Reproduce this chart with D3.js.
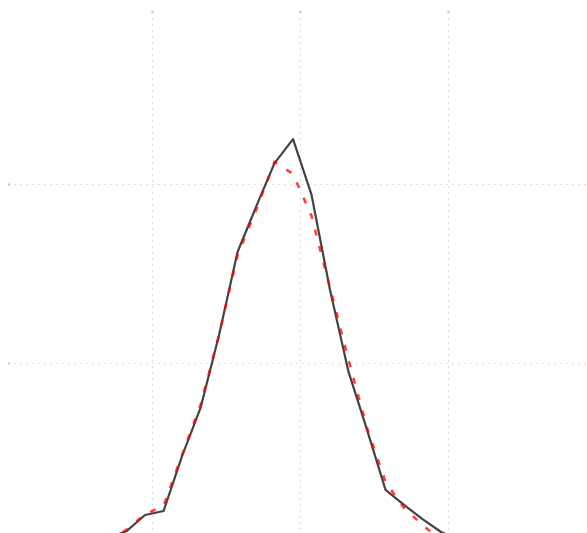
<!DOCTYPE html>
<html>
<head>
<meta charset="utf-8">
<script src="https://cdnjs.cloudflare.com/ajax/libs/d3/7.8.5/d3.min.js"></script>
<style>
    body { margin: 0; background: #fff; }
    svg { display: block; }
</style>
</head>
<body>
<div id="chart"></div>
<script>
// bin centres (same for both series)
const xValues = [-1.297, -1.172, -1.047, -0.922, -0.797, -0.672, -0.547, -0.422, -0.297, -0.172,
    -0.047, 0.078, 0.203, 0.328, 0.453, 0.578, 0.703, 0.828, 0.953, 1.078];

// observed (black solid)
const observed = [0.002, 0.0061, 0.0151, 0.0173, 0.0480, 0.0749, 0.1156, 0.1620, 0.1872, 0.2117,
    0.2251, 0.1939, 0.1408, 0.0950, 0.0626, 0.0291, 0.0207, 0.0128, 0.0056, 0.001];

// expected (red dotted)
const expected = [0.001, 0.0067, 0.0156, 0.0201, 0.0486, 0.0765, 0.1156, 0.1603, 0.1855, 0.2123,
    0.2056, 0.1821, 0.1419, 0.1017, 0.0637, 0.0335, 0.0190, 0.0095, 0.0011, 0.0];

const xTicks = [-1, 0, 1];
const yTicks = [0.1, 0.2];

class DistVis {

    constructor(parentElement) {
        this.parentElement = parentElement;
        this.initVis();
    }

    initVis() {
        let vis = this;

        vis.width = 587;
        vis.height = 533;
        vis.left = 8;
        vis.top = 12;

        vis.svg = d3.select("#" + vis.parentElement).append("svg")
            .attr("width", vis.width)
            .attr("height", vis.height);

        vis.x = d3.scaleLinear().domain([-1, 1]).range([152, 448]);
        vis.y = d3.scaleLinear().domain([0.1, 0.2]).range([363, 184]);

        vis.svg.append("clipPath").attr("id", "plot-clip")
            .append("rect")
            .attr("x", vis.left).attr("y", vis.top)
            .attr("width", vis.width - vis.left).attr("height", vis.height - vis.top);

        // grid
        let grid = vis.svg.append("g")
            .style("stroke", "#dedede")
            .style("stroke-width", 1)
            .style("stroke-dasharray", "2,4");

        grid.selectAll(".vgrid")
            .data(xTicks)
            .enter().append("line")
            .attr("class", "vgrid")
            .attr("x1", d => Math.round(vis.x(d)) + 0.5)
            .attr("x2", d => Math.round(vis.x(d)) + 0.5)
            .attr("y1", vis.top)
            .attr("y2", vis.height);

        grid.selectAll(".hgrid")
            .data(yTicks)
            .enter().append("line")
            .attr("class", "hgrid")
            .attr("y1", d => Math.round(vis.y(d)) + 0.5)
            .attr("y2", d => Math.round(vis.y(d)) + 0.5)
            .attr("x1", vis.left)
            .attr("x2", vis.width);

        // little tick stubs where the grid meets the frame
        vis.svg.selectAll(".xtick")
            .data(xTicks)
            .enter().append("rect")
            .attr("class", "xtick")
            .attr("x", d => Math.round(vis.x(d)) - 0.5)
            .attr("y", vis.top - 1)
            .attr("width", 2).attr("height", 2)
            .attr("fill", "#c4c4c4");

        vis.svg.selectAll(".ytick")
            .data(yTicks)
            .enter().append("rect")
            .attr("class", "ytick")
            .attr("x", vis.left)
            .attr("y", d => Math.round(vis.y(d)) - 0.5)
            .attr("width", 2).attr("height", 2)
            .attr("fill", "#c4c4c4");

        let line = d3.line()
            .x((d, i) => vis.x(xValues[i]))
            .y(d => vis.y(d));

        let lines = vis.svg.append("g").attr("clip-path", "url(#plot-clip)");

        lines.append("path")
            .datum(observed)
            .attr("d", line)
            .attr("fill", "none")
            .attr("stroke", "#222")
            .attr("stroke-opacity", 0.85)
            .attr("stroke-width", 2.2)
            .attr("stroke-linejoin", "round");

        lines.append("path")
            .datum(expected)
            .attr("d", line)
            .attr("fill", "none")
            .attr("stroke", "#f00")
            .attr("stroke-opacity", 0.75)
            .attr("stroke-width", 2.6)
            .attr("stroke-dasharray", "6,11");
    }
}

new DistVis("chart");
</script>
</body>
</html>
